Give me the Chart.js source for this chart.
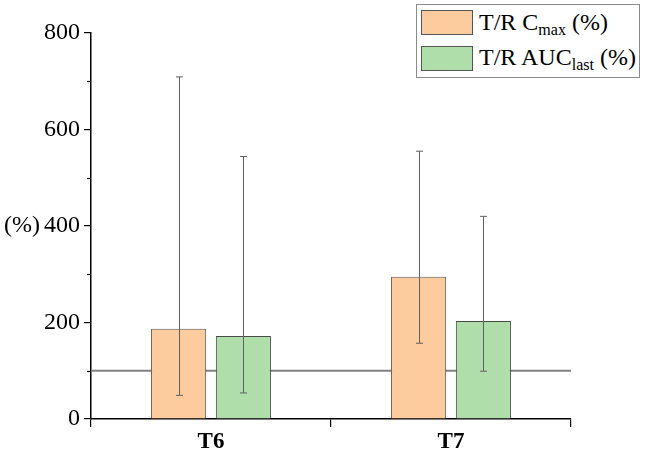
<!DOCTYPE html>
<html>
<head>
<meta charset="utf-8">
<script src="https://cdn.jsdelivr.net/npm/chart.js@4"></script>
<style>
  body { margin: 0; background: #fff; }
  #wrap { position: relative; width: 646px; height: 449px; }
  #legend {
    position: absolute; left: 416px; top: 4px; width: 222px; height: 72px;
    border: 1.5px solid #8a8a8a; background: #fff;
    font-family: "Liberation Serif", serif; font-size: 24px; color: #000;
  }
  .sw { position: absolute; left: 4px; width: 52px; height: 25px; border: 1.2px solid #555; box-sizing: border-box; }
  .txt { position: absolute; left: 62px; height: 25px; line-height: 25px; white-space: nowrap; }
  .txt sub { font-size: 16px; vertical-align: -5px; line-height: 0; }
</style>
</head>
<body>
<div id="wrap">
  <canvas id="barChart" width="646" height="449"></canvas>
  <div id="legend">
    <div class="sw" style="top:5px; background:#fccb9e"></div>
    <div class="txt" style="top:5px">T/R C<sub>max</sub> (%)</div>
    <div class="sw" style="top:41px; background:#b0deab"></div>
    <div class="txt" style="top:40px">T/R AUC<sub>last</sub> (%)</div>
  </div>
</div>
<script>
const categories = ['T6', 'T7'];
const cmaxValues = [187, 295];
const cmaxLow = [49, 157];
const cmaxHigh = [709, 555];
const aucValues = [172, 203];
const aucLow = [54, 99];
const aucHigh = [544, 420];
const yTicks = [0, 200, 400, 600, 800];
const minorTicks = [100, 300, 500, 700];
const refLine = 100;

const errLow = [cmaxLow, aucLow];
const errHigh = [cmaxHigh, aucHigh];

const serif = '"Liberation Serif", "Times New Roman", serif';

const extras = {
  id: 'extras',
  beforeDatasetsDraw(chart) {
    const { ctx, chartArea, scales } = chart;
    const y = scales.y.getPixelForValue(refLine);
    ctx.save();
    ctx.strokeStyle = '#808080';
    ctx.lineWidth = 2;
    ctx.beginPath();
    ctx.moveTo(chartArea.left, y);
    ctx.lineTo(chartArea.right, y);
    ctx.stroke();
    ctx.restore();
  },
  afterDatasetsDraw(chart) {
    const { ctx, scales } = chart;
    ctx.save();
    ctx.strokeStyle = '#606060';
    ctx.lineWidth = 1;
    chart.data.datasets.forEach((ds, di) => {
      chart.getDatasetMeta(di).data.forEach((bar, i) => {
        const x = Math.round(bar.x) + 0.5;
        const top = scales.y.getPixelForValue(errHigh[di][i]);
        const bot = scales.y.getPixelForValue(errLow[di][i]);
        ctx.beginPath();
        ctx.moveTo(x, top); ctx.lineTo(x, bot);
        ctx.moveTo(x - 3.5, top); ctx.lineTo(x + 3.5, top);
        ctx.moveTo(x - 3.5, bot); ctx.lineTo(x + 3.5, bot);
        ctx.stroke();
      });
    });
    ctx.restore();
  },
  afterDraw(chart) {
    const { ctx, chartArea, scales } = chart;
    ctx.save();
    ctx.strokeStyle = '#000';
    ctx.lineWidth = 1.2;
    minorTicks.forEach(v => {
      const y = Math.round(scales.y.getPixelForValue(v)) + 0.5;
      ctx.beginPath();
      ctx.moveTo(chartArea.left - 4, y);
      ctx.lineTo(chartArea.left, y);
      ctx.stroke();
    });
    ctx.fillStyle = '#000';
    ctx.font = '24px ' + serif;
    ctx.textAlign = 'left';
    ctx.textBaseline = 'middle';
    ctx.fillText('(%)', 4, scales.y.getPixelForValue(400));
    ctx.restore();
  }
};

new Chart(document.getElementById('barChart').getContext('2d'), {
  type: 'bar',
  data: {
    labels: categories,
    datasets: [{
      label: 'T/R Cmax (%)',
      data: cmaxValues,
      backgroundColor: '#fccb9e',
      borderColor: '#5a5a5a',
      borderWidth: 1,
      categoryPercentage: 0.54,
      barPercentage: 0.85
    }, {
      label: 'T/R AUClast (%)',
      data: aucValues,
      backgroundColor: '#b0deab',
      borderColor: '#4a4a4a',
      borderWidth: 1,
      categoryPercentage: 0.54,
      barPercentage: 0.85
    }]
  },
  options: {
    responsive: false,
    animation: false,
    layout: { padding: { left: 0, right: 75, top: 33, bottom: 0 } },
    plugins: {
      legend: { display: false },
      tooltip: { enabled: false }
    },
    scales: {
      x: {
        afterFit(scale) { scale.height = 30; },
        grid: { display: true, drawOnChartArea: false, drawTicks: true, tickLength: 8, color: '#000', lineWidth: 1.2 },
        border: { color: '#000', width: 1.5 },
        ticks: { color: '#000', padding: 1, font: { family: serif, size: 23, weight: 'bold' } }
      },
      y: {
        min: 0,
        max: 800,
        afterFit(scale) { scale.width = 91; },
        afterBuildTicks(scale) { scale.ticks = yTicks.map(v => ({ value: v })); },
        grid: { display: true, drawOnChartArea: false, drawTicks: true, tickLength: 7, color: '#000', lineWidth: 1.2 },
        border: { color: '#000', width: 1.5 },
        ticks: { color: '#000', padding: 4, font: { family: serif, size: 24 } }
      }
    }
  },
  plugins: [extras]
});
</script>
</body>
</html>
